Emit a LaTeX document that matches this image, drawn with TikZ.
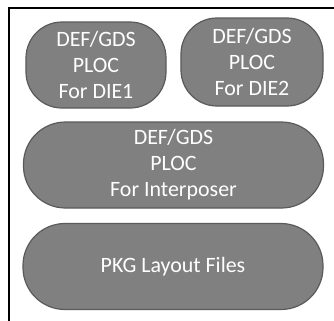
\documentclass[tikz,border=0pt]{standalone}
\usepackage{fontspec}
\setmainfont{Carlito}
\usepackage{tikz}

\definecolor{boxgray}{RGB}{128,128,128}
\definecolor{boxedge}{RGB}{90,90,90}

\begin{document}
\begin{tikzpicture}[x=1bp,y=-1bp,
    filebox/.style={draw=boxedge,line width=1.2bp,fill=boxgray,text=white,
        align=center,inner sep=0pt,font=\fontsize{22}{26}\selectfont},
    diebox/.style={filebox,rounded corners=36bp},
    widebox/.style={filebox,rounded corners=42bp,minimum width=300bp,minimum height=86bp}]
    \useasboundingbox (0,0) rectangle (334,321);
    % Outer frame (open to the right and bottom)
    \draw[line width=1.3bp] (334,8) -- (9,8) -- (9,321);

    % Die files
    \node[diebox,minimum width=140bp,minimum height=86bp] (die1) at (96,65) {DEF/GDS\\PLOC\\For DIE1};
    \node[diebox,minimum width=142bp,minimum height=88bp] (die2) at (252,62) {DEF/GDS\\PLOC\\For DIE2};

    % Interposer and package files
    \node[widebox] (interposer) at (173.5,165) {DEF/GDS\\PLOC\\For Interposer};
    \node[widebox] (pkg) at (173,266.5) {PKG Layout Files};
\end{tikzpicture}
\end{document}
